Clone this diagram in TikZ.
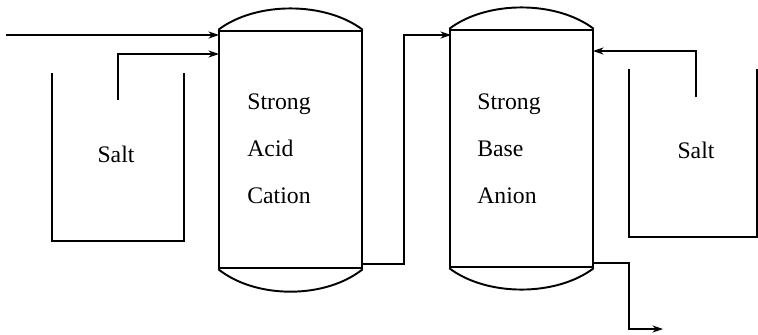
\documentclass[tikz,border=0pt]{standalone}
\usepackage{fontspec}
\setmainfont{Liberation Serif}
\usetikzlibrary{arrows.meta}
\tikzset{
  column/.style={draw, line width=1.1pt, minimum width=2.85cm, minimum height=4.75cm, inner sep=0pt},
  dome/.style={line width=1.1pt},
  tank/.style={line width=1pt},
  flow/.style={line width=0.6pt, -{Stealth[length=6pt,width=4pt]}},
  resin/.style={align=left, inner sep=0pt, anchor=west, font=\fontsize{13.5}{26.7}\selectfont},
  salttext/.style={inner sep=0pt, anchor=base, font=\fontsize{13.5}{16}\selectfont}
}
\begin{document}
\begin{tikzpicture}[x=0.02cm, y=-0.02cm]
    \useasboundingbox (0,0) rectangle (758,335);
    % columns
    \node[column] (cat) at (290.5,149.5) {};
    \node[column] (an) at (521.5,148.5) {};
    \draw[dome] (cat.north west) .. controls +(0.75cm,0.57cm) and +(-0.75cm,0.57cm) .. (cat.north east);
    \draw[dome] (cat.south west) .. controls +(0.75cm,-0.6cm) and +(-0.75cm,-0.6cm) .. (cat.south east);
    \draw[dome] (an.north west) .. controls +(0.75cm,0.57cm) and +(-0.75cm,0.57cm) .. (an.north east);
    \draw[dome] (an.south west) .. controls +(0.75cm,-0.57cm) and +(-0.75cm,-0.57cm) .. (an.south east);
    \node[resin] (cattext) at (247,148.5) {Strong\\Acid\\Cation};
    \node[resin] (antext) at (477,149) {Strong\\Base\\Anion};
    % salt tanks
    \draw[tank] (52,73) |- (184,241) -- (184,73);
    \draw[tank] (629,69) |- (757,237) -- (757,69);
    \node[salttext] (salta) at (116,162) {Salt};
    \node[salttext] (saltb) at (696,158) {Salt};
    % flows
    \coordinate (feed) at (6,35);
    \coordinate (catin) at (219,35);
    \coordinate (salain) at (118,100);
    \coordinate (catregen) at (219,54);
    \coordinate (catout) at (363,264);
    \coordinate (anin) at (451,35);
    \coordinate (saltbin) at (696,97);
    \coordinate (anregen) at (593,51);
    \coordinate (anout) at (593,263);
    \coordinate (product) at (663,329);
    \draw[flow] (feed) -- (catin);
    \draw[flow] (salain) |- (catregen);
    \draw[flow] (catout) -- (404,264) |- (anin);
    \draw[flow] (saltbin) |- (anregen);
    \draw[flow] (anout) -- (629,263) |- (product);
  \end{tikzpicture}
\end{document}
